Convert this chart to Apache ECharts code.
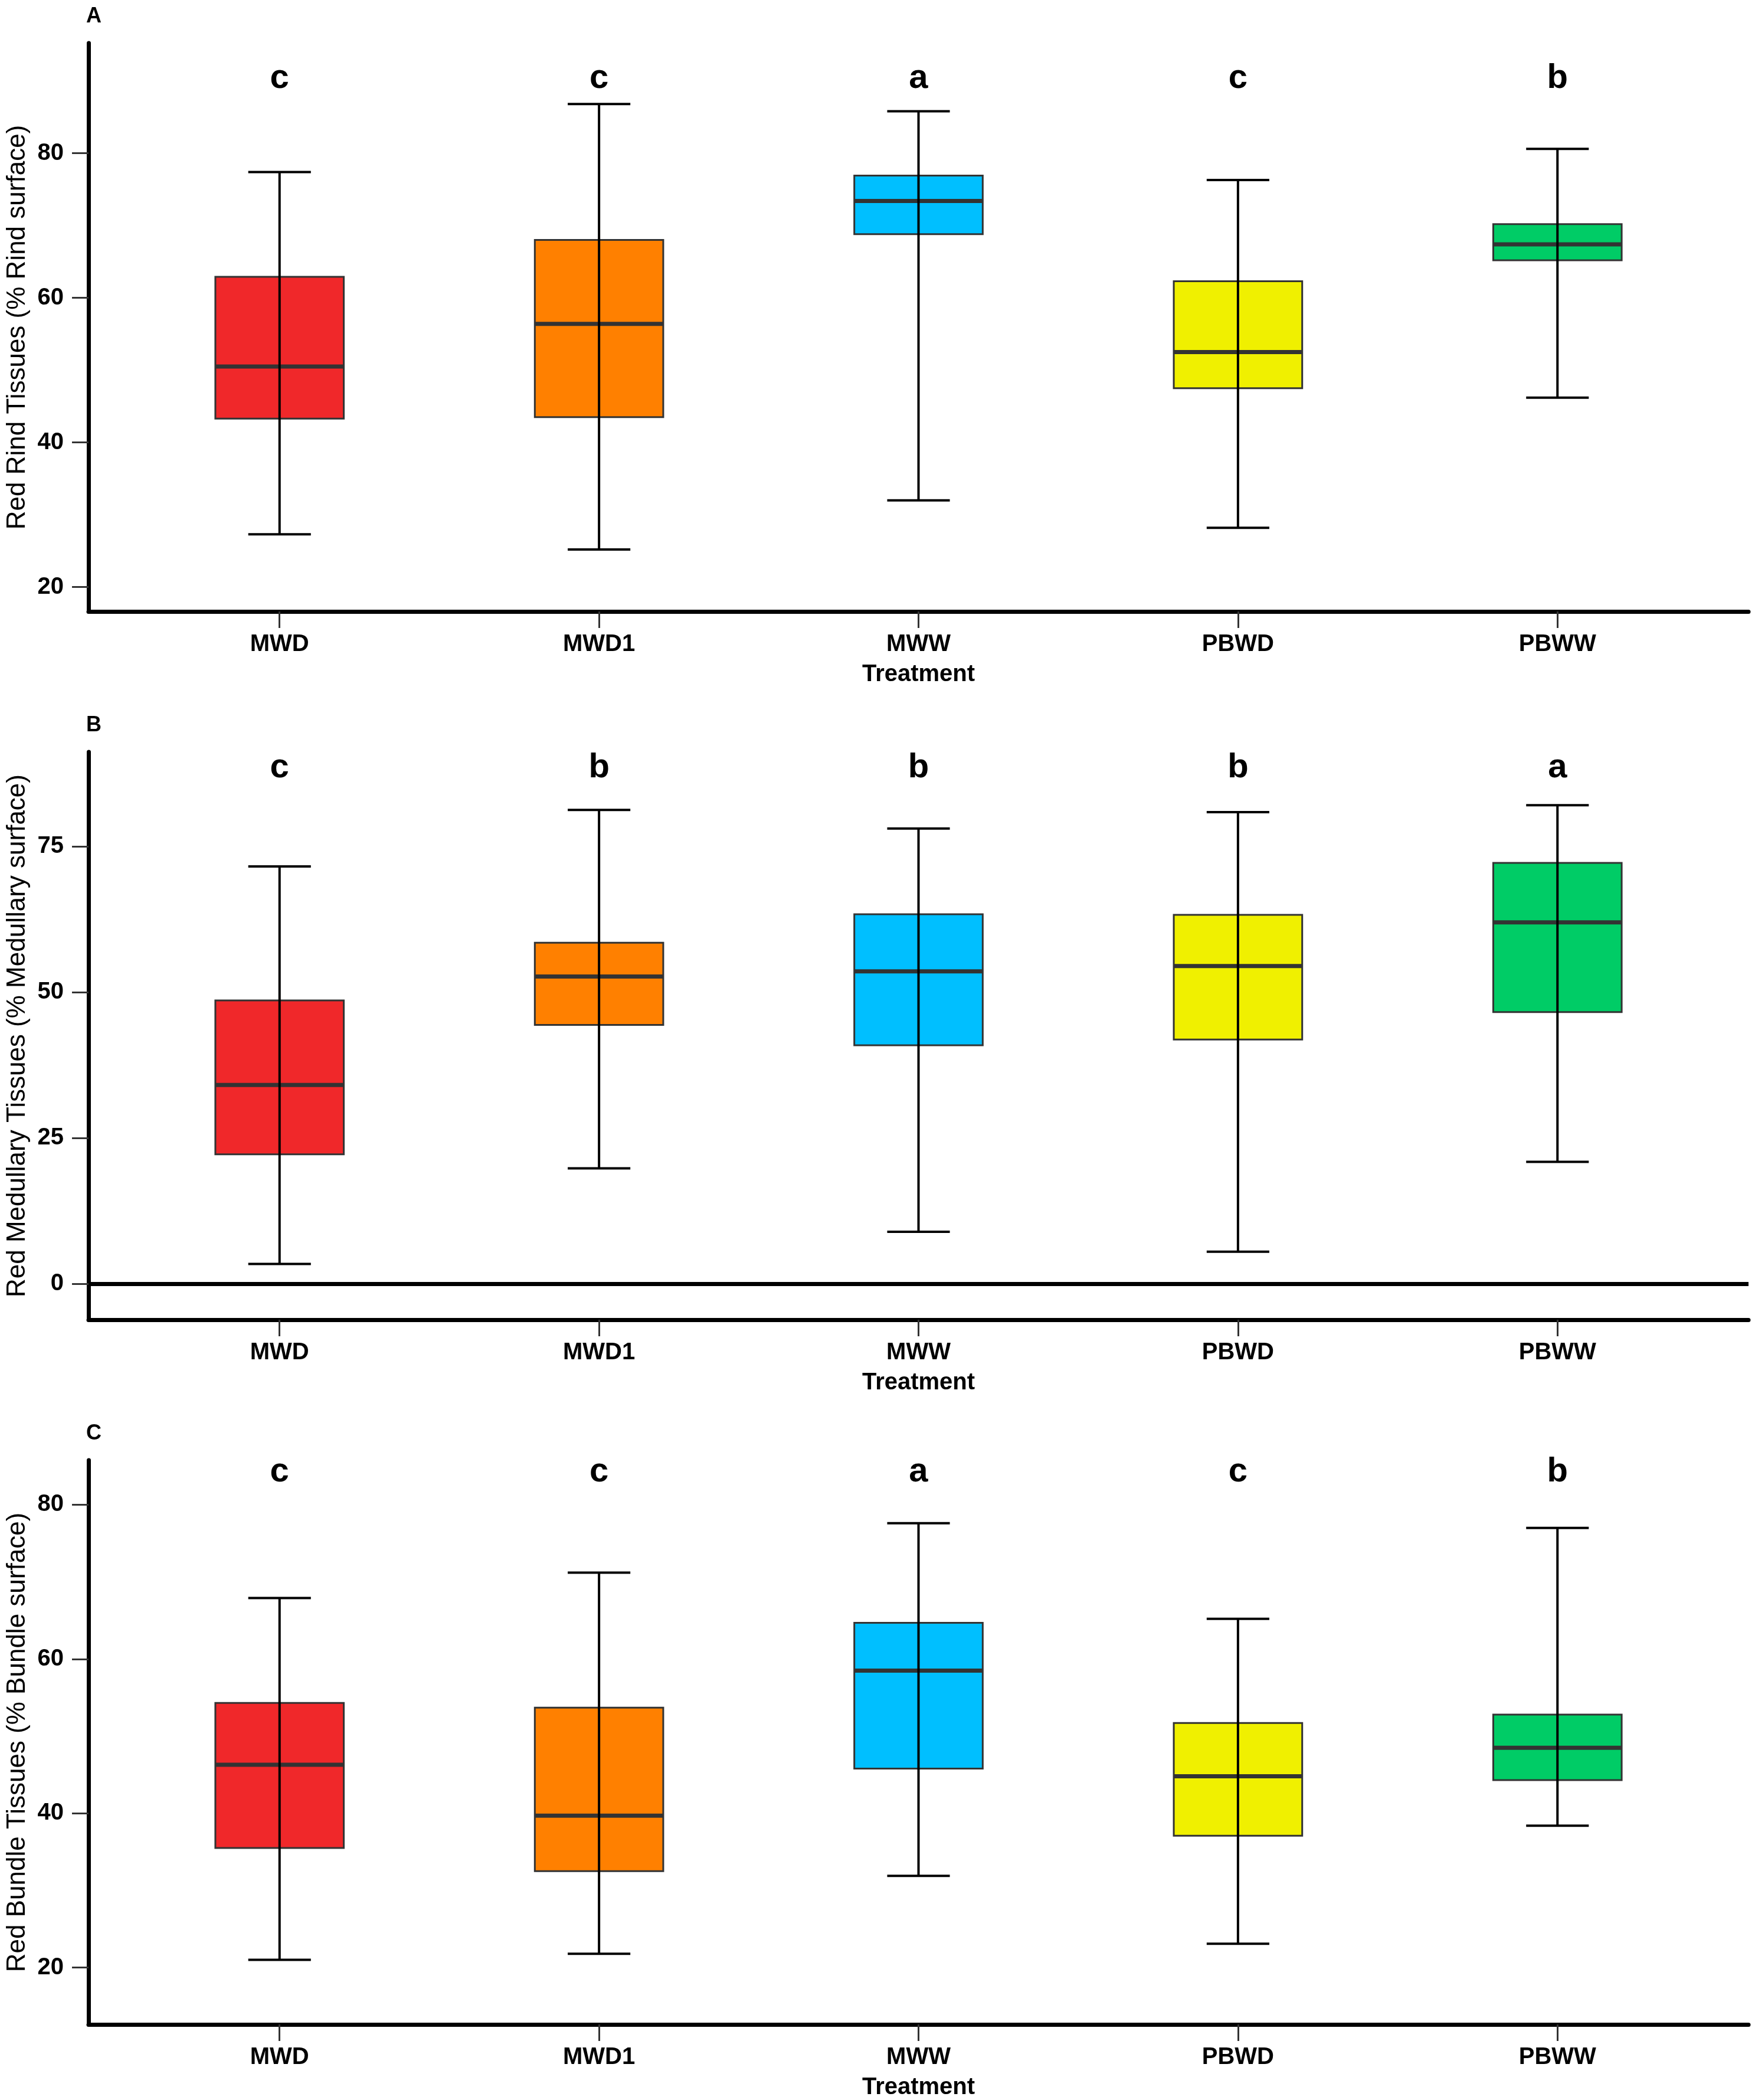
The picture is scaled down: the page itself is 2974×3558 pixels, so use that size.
<!DOCTYPE html>
<html>
<head>
<meta charset="utf-8">
<script src="https://cdn.jsdelivr.net/npm/echarts@6/dist/echarts.min.js"></script>
<style>
  html, body { margin: 0; padding: 0; background: #fff; }
  #chart { width: 2974px; height: 3558px; }
</style>
</head>
<body>
<div id="chart"></div>
<script>
// categories and colours
var categories = ['MWD', 'MWD1', 'MWW', 'PBWD', 'PBWW'];
var boxColors = ['#F0282A', '#FF8000', '#00BFFF', '#F0F000', '#00CC66'];

// [min, Q1, median, Q3, max] per treatment
var rindStats = [
    [27.3, 43.3, 50.5, 62.9, 77.4],
    [25.2, 43.5, 56.4, 68.0, 86.8],
    [32.0, 68.8, 73.4, 76.9, 85.8],
    [28.2, 47.5, 52.5, 62.3, 76.3],
    [46.2, 65.2, 67.4, 70.2, 80.6]
];
var medullaryStats = [
    [3.4, 22.2, 34.1, 48.6, 71.6],
    [19.8, 44.4, 52.7, 58.5, 81.3],
    [8.9, 40.9, 53.6, 63.4, 78.1],
    [5.5, 41.9, 54.5, 63.3, 80.9],
    [20.9, 46.6, 62.0, 72.2, 82.1]
];
var bundleStats = [
    [21.0, 35.5, 46.3, 54.3, 67.9],
    [21.8, 32.5, 39.7, 53.7, 71.2],
    [31.9, 45.8, 58.5, 64.7, 77.6],
    [23.1, 37.1, 44.8, 51.7, 65.2],
    [38.4, 44.3, 48.5, 52.8, 77.0]
];

// significance letters
var rindLetters = ['c', 'c', 'a', 'c', 'b'];
var medullaryLetters = ['c', 'b', 'b', 'b', 'a'];
var bundleLetters = ['c', 'c', 'a', 'c', 'b'];

// tick labels
var rindTicks = [20, 40, 60, 80];
var medullaryTicks = [0, 25, 50, 75];
var bundleTicks = [20, 40, 60, 80];
var catTicks = [0, 1, 2, 3, 4];

var FONT = '"Liberation Sans", Arial, sans-serif';

var panels = [
    {tag: 'A', name: 'Red Rind Tissues (% Rind surface)', stats: rindStats, letters: rindLetters, ticks: rindTicks,
     top: 73, height: 963, min: 16.63, max: 95.23, letterY: 60, zeroLine: false},
    {tag: 'B', name: 'Red Medullary Tissues (% Medullary surface)', stats: medullaryStats, letters: medullaryLetters, ticks: medullaryTicks,
     top: 1274, height: 962, min: -6.18, max: 91.24, letterY: 27, zeroLine: true},
    {tag: 'C', name: 'Red Bundle Tissues (% Bundle surface)', stats: bundleStats, letters: bundleLetters, ticks: bundleTicks,
     top: 2474, height: 962, min: 12.63, max: 85.77, letterY: 20, zeroLine: false}
];

//箱线图 drawn by hand so whisker runs through the box
function makeRender(letters, letterY) {
    return function (params, api) {
        var x = api.value(0);
        var unit = api.size([1, 0])[0];
        var cx = api.coord([x, api.value(3)])[0];
        var yMin = api.coord([x, api.value(1)])[1];
        var yQ1 = api.coord([x, api.value(2)])[1];
        var yMed = api.coord([x, api.value(3)])[1];
        var yQ3 = api.coord([x, api.value(4)])[1];
        var yMax = api.coord([x, api.value(5)])[1];
        var half = unit * 0.201;
        var cap = unit * 0.098;
        return {
            type: 'group',
            children: [
                {type: 'rect', shape: {x: cx - half, y: yQ3, width: half * 2, height: yQ1 - yQ3},
                 style: {fill: boxColors[params.dataIndex], stroke: '#333', lineWidth: 3}},
                {type: 'line', shape: {x1: cx - half, y1: yMed, x2: cx + half, y2: yMed},
                 style: {stroke: '#333', lineWidth: 7}},
                {type: 'line', shape: {x1: cx, y1: yMax, x2: cx, y2: yMin},
                 style: {stroke: '#000', lineWidth: 4}},
                {type: 'line', shape: {x1: cx - cap, y1: yMax, x2: cx + cap, y2: yMax},
                 style: {stroke: '#000', lineWidth: 4}},
                {type: 'line', shape: {x1: cx - cap, y1: yMin, x2: cx + cap, y2: yMin},
                 style: {stroke: '#000', lineWidth: 4}},
                {type: 'text', x: cx, y: params.coordSys.y + letterY,
                 style: {text: letters[params.dataIndex], fontSize: 58, fontWeight: 'bold', fontFamily: FONT,
                         fill: '#000', align: 'center', verticalAlign: 'middle'}}
            ]
        };
    };
}

var option = {
    backgroundColor: '#fff',
    animation: false,
    title: [],
    grid: [],
    xAxis: [],
    yAxis: [],
    series: []
};

panels.forEach(function (p, i) {
    option.title.push({
        text: p.tag, left: 146, top: p.top - 63, padding: 0,
        textStyle: {fontSize: 36, fontWeight: 'bold', fontFamily: FONT, color: '#000'}
    });
    option.grid.push({left: 147, right: 11, top: p.top, height: p.height});
    option.xAxis.push({
        gridIndex: i, type: 'value', min: -0.598, max: 4.598,
        name: 'Treatment', nameLocation: 'middle', nameGap: 87,
        nameTextStyle: {fontSize: 40, fontWeight: 'bold', fontFamily: FONT, color: '#000'},
        axisLine: {show: true, onZero: false, lineStyle: {color: '#000', width: 7}},
        axisTick: {show: true, customValues: catTicks, length: 28, lineStyle: {color: '#333', width: 3}},
        axisLabel: {customValues: catTicks, margin: 36, fontSize: 40, fontWeight: 'bold', fontFamily: FONT, color: '#000',
                    formatter: function (v) { return categories[Math.round(v)]; }},
        splitLine: {show: false}
    });
    option.yAxis.push({
        gridIndex: i, type: 'value', min: p.min, max: p.max,
        name: p.name, nameLocation: 'middle', nameGap: 98,
        nameTextStyle: {fontSize: 44, fontFamily: FONT, color: '#000'},
        axisLine: {show: true, onZero: false, lineStyle: {color: '#000', width: 7}},
        axisTick: {show: true, customValues: p.ticks, length: 28, lineStyle: {color: '#333', width: 3}},
        axisLabel: {customValues: p.ticks, margin: 42, fontSize: 40, fontWeight: 'bold', fontFamily: FONT, color: '#000'},
        splitLine: {show: false}
    });
    var s = {
        type: 'custom',
        xAxisIndex: i, yAxisIndex: i,
        renderItem: makeRender(p.letters, p.letterY),
        encode: {x: 0, y: [1, 2, 3, 4, 5]},
        clip: false,
        data: p.stats.map(function (row, k) { return [k].concat(row); })
    };
    if (p.zeroLine) {
        s.markLine = {
            silent: true, symbol: 'none', label: {show: false},
            lineStyle: {color: '#000', width: 7, type: 'solid'},
            data: [{yAxis: 0}]
        };
    }
    option.series.push(s);
});

echarts.init(document.getElementById('chart')).setOption(option);
</script>
</body>
</html>
